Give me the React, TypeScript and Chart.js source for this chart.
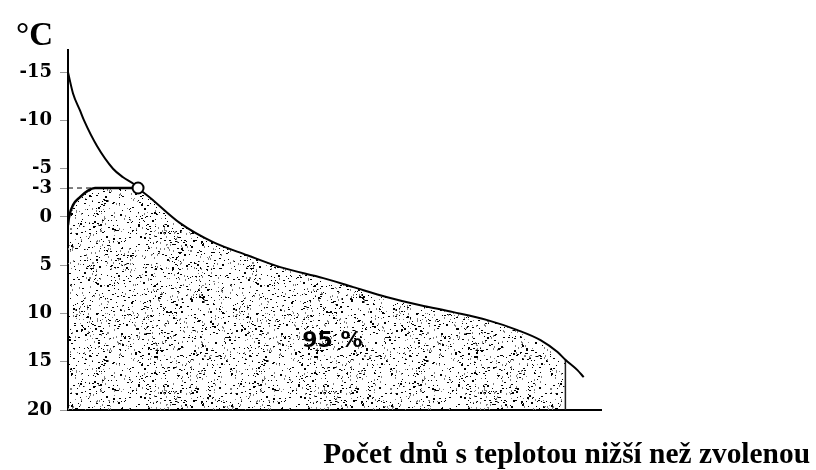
import { useEffect, useRef } from "react";
import { Chart, registerables } from "chart.js";

Chart.register(...registerables);

// ---- data (x = share of days in %, y = temperature in °C) ----
const yTickValues = [-15, -10, -5, -3, 0, 5, 10, 15, 20];
const curveDays = [0, 0.96, 2.29, 3.06, 5.54, 8.6, 10.52, 12.81, 13.38, 15.68, 21.41, 27.72, 34.23, 40.54, 48.76, 54.49, 61.0, 67.3, 73.6, 80.1, 85.85, 90.25, 93.5, 95, 97.3, 98.5];
const curveTemps = [-15, -12.8, -11.04, -10, -7.35, -5, -4.12, -3.32, -3, -2.0, 0.64, 2.61, 3.96, 5.2, 6.34, 7.27, 8.31, 9.14, 9.86, 10.69, 11.72, 12.76, 14.0, 14.8, 15.87, 16.6];
const capDays = [0, 0.2, 0.96, 2.29, 3.82, 5.16, 13.38];
const capTemps = [0.83, 0, -1.23, -2.05, -2.73, -3, -3];
const chosenDay = 13.38;
const chosenTemp = -3;
const shareDay = 95;
const shareLabel = "95 %";
const shareLabelPos = [50.5, 12.85];
const yTitle = "°C";
const xTitle = "Počet dnů s teplotou nižší než zvolenou";
const yMin = -17.3;
const yMax = 20;
const xMin = 0;
const xMax = 101.8;

function makeStipple(): CanvasPattern | string {
  const c = document.createElement("canvas");
  c.width = 160;
  c.height = 160;
  const g = c.getContext("2d");
  if (!g) return "#bbb";
  let s = 987654321;
  const rnd = () => {
    s = (Math.imul(s, 1103515245) + 12345) >>> 0;
    return s / 4294967296;
  };
  for (let i = 0; i < 1750; i++) {
    const x = Math.floor(rnd() * 160);
    const y = Math.floor(rnd() * 160);
    const r = rnd();
    g.fillStyle = r < 0.65 ? "#000" : "#808080";
    const w = r < 0.3 ? 2 : 1;
    const h = r > 0.8 || r < 0.08 ? 2 : 1;
    g.fillRect(x, y, w, h);
  }
  return g.createPattern(c, "repeat") || "#bbb";
}

const textPlugin = {
  id: "texts",
  afterDraw(chart: any) {
    const ctx: CanvasRenderingContext2D = chart.ctx;
    const xs = chart.scales.x;
    const ys = chart.scales.y;
    ctx.save();
    ctx.fillStyle = "#000";
    ctx.textBaseline = "alphabetic";
    ctx.textAlign = "left";
    ctx.font = "bold 33px 'Liberation Serif'";
    ctx.fillText(yTitle, 16, 45);

    ctx.font = "bold 22px 'DejaVu Sans'";
    ctx.textAlign = "center";
    ctx.textBaseline = "middle";
    ctx.fillText(shareLabel, xs.getPixelForValue(shareLabelPos[0]), ys.getPixelForValue(shareLabelPos[1]));

    let size = 26;
    ctx.font = `bold ${size}px 'Liberation Serif'`;
    const w = ctx.measureText(xTitle).width;
    size = (size * 487) / w;
    ctx.font = `bold ${size.toFixed(2)}px 'Liberation Serif'`;
    ctx.textAlign = "right";
    ctx.textBaseline = "alphabetic";
    ctx.fillText(xTitle, 810, 463);
    ctx.restore();
  },
};

export default function App() {
  const ref = useRef<HTMLCanvasElement | null>(null);

  useEffect(() => {
    if (!ref.current) return;
    const curve = curveDays.map((x, i) => ({ x, y: curveTemps[i] }));
    const cap = capDays.map((x, i) => ({ x, y: capTemps[i] }));
    const fillPts = [
      ...cap,
      ...curve.filter((p) => p.x > chosenDay && p.x <= shareDay),
    ];
    const endTemp = curveTemps[curveDays.indexOf(shareDay)];

    const chart = new Chart(ref.current, {
      type: "line",
      data: {
        datasets: [
          {
            data: [{ x: chosenDay, y: chosenTemp }],
            showLine: false,
            pointRadius: 5.5,
            pointBackgroundColor: "#fff",
            pointBorderColor: "#000",
            pointBorderWidth: 2,
          },
          {
            data: curve,
            borderColor: "#000",
            borderWidth: 2,
            pointRadius: 0,
            cubicInterpolationMode: "monotone",
            fill: false,
          },
          {
            data: cap,
            borderColor: "#000",
            borderWidth: 2.5,
            pointRadius: 0,
            cubicInterpolationMode: "monotone",
            fill: false,
          },
          {
            data: [
              { x: xMin, y: chosenTemp },
              { x: chosenDay, y: chosenTemp },
            ],
            borderColor: "#000",
            borderWidth: 1,
            borderDash: [5, 4],
            pointRadius: 0,
            fill: false,
          },
          {
            data: [
              { x: shareDay, y: endTemp },
              { x: shareDay, y: yMax },
            ],
            borderColor: "#222",
            borderWidth: 1.5,
            pointRadius: 0,
            fill: false,
          },
          {
            data: fillPts,
            borderWidth: 0,
            borderColor: "rgba(0,0,0,0)",
            backgroundColor: makeStipple() as any,
            pointRadius: 0,
            cubicInterpolationMode: "monotone",
            fill: { value: yMax },
          },
        ] as any,
      },
      options: {
        animation: false,
        responsive: false,
        maintainAspectRatio: false,
        layout: { padding: { left: 0, top: 50, right: 215, bottom: 60 } },
        plugins: {
          legend: { display: false },
          tooltip: { enabled: false },
          title: { display: false },
        },
        scales: {
          x: {
            type: "linear",
            min: xMin,
            max: xMax,
            grid: { display: false, drawTicks: false },
            border: { display: true, color: "#000", width: 2 },
            ticks: { display: false },
            afterFit: (s: any) => {
              s.height = 0;
            },
          },
          y: {
            type: "linear",
            reverse: true,
            min: yMin,
            max: yMax,
            afterBuildTicks: (s: any) => {
              s.ticks = yTickValues.map((v) => ({ value: v }));
            },
            afterFit: (s: any) => {
              s.width = 68;
            },
            grid: {
              drawOnChartArea: false,
              drawTicks: true,
              tickLength: 8,
              color: "#999",
              lineWidth: 1,
            },
            border: { display: true, color: "#000", width: 2 },
            ticks: {
              padding: 8,
              color: "#000",
              font: { family: "'DejaVu Serif'", size: 18, weight: "bold" },
              callback: (v: any) => String(v),
            },
          },
        },
      } as any,
      plugins: [textPlugin],
    });
    return () => chart.destroy();
  }, []);

  return (
    <div style={{ position: "fixed", left: 0, top: 0, width: 816, height: 470, background: "#fff" }}>
      <canvas ref={ref} width={816} height={470} style={{ display: "block" }} />
    </div>
  );
}
